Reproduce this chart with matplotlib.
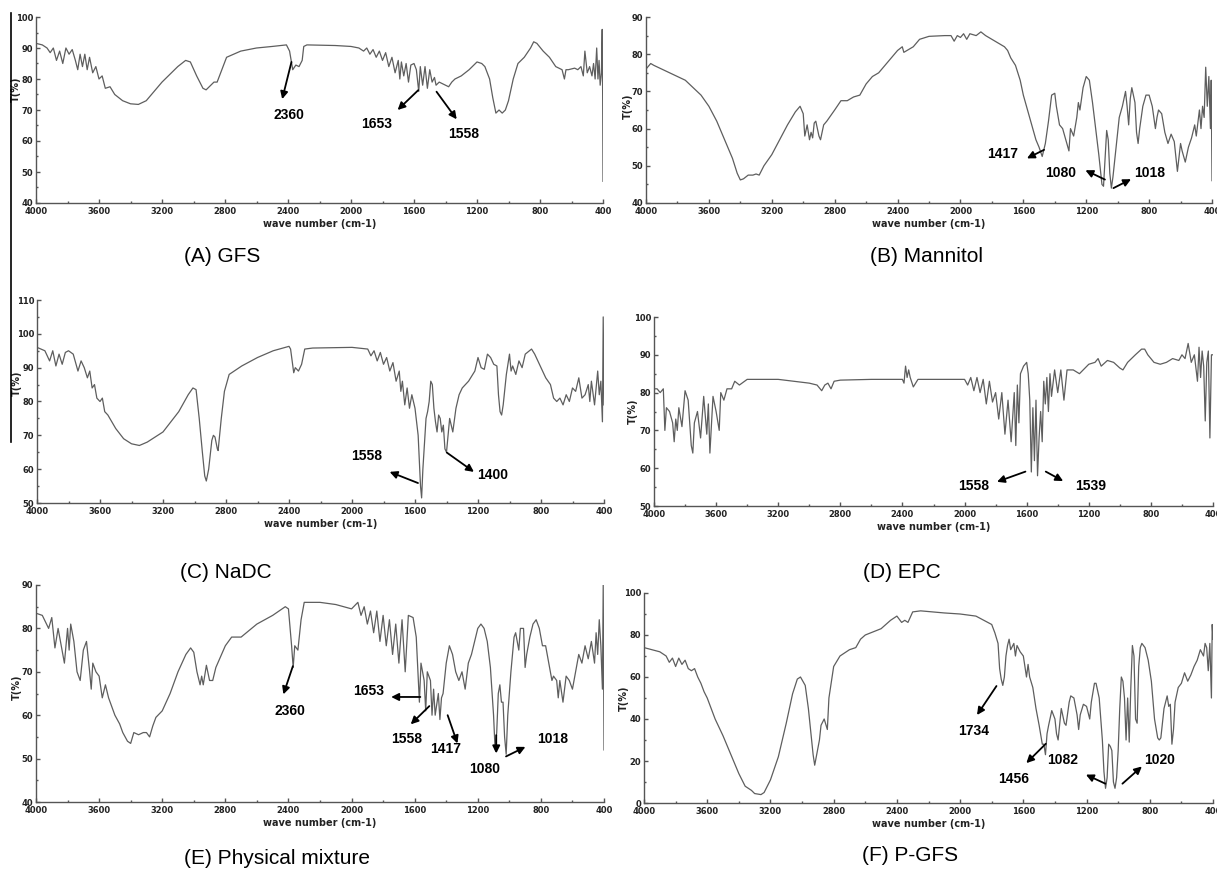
#!/usr/bin/env python3
# FTIR spectra, six panels (A-F), saved to out.png
import matplotlib.pyplot as plt
from matplotlib.lines import Line2D
from matplotlib.ticker import MultipleLocator

# --- spectra: wavenumber (cm-1) and transmittance (%) ---
gfs_wn = [4000, 3960, 3930, 3910, 3890, 3870, 3850, 3830, 3810, 3790, 3770, 3750, 3735, 3720, 3705,
          3690, 3675, 3660, 3640, 3620, 3600, 3580, 3560, 3530, 3500, 3450, 3400, 3350, 3300, 3200,
          3100, 3050, 3020, 2980, 2940, 2920, 2900, 2870, 2850, 2820, 2790, 2700, 2600, 2500, 2410,
          2390, 2370, 2350, 2330, 2310, 2300, 2280, 2100, 2000, 1950, 1920, 1900, 1880, 1860, 1840,
          1820, 1800, 1780, 1760, 1740, 1720, 1700, 1690, 1680, 1665, 1650, 1635, 1620, 1600, 1585,
          1570, 1560, 1545, 1530, 1515, 1500, 1485, 1470, 1460, 1440, 1420, 1400, 1380, 1360, 1340,
          1300, 1250, 1200, 1170, 1150, 1120, 1100, 1080, 1060, 1040, 1020, 1000, 970, 940, 900,
          860, 840, 820, 780, 740, 700, 660, 645, 635, 620, 580, 560, 540, 525, 515, 500, 485, 470,
          460, 450, 440, 432, 425, 418, 410, 405, 402, 400]
gfs_t = [91.5, 91, 90, 88.5, 90, 86, 89, 85, 90, 88, 89.5, 86, 83, 88, 84,
         88, 83, 87, 82, 84, 80, 81, 77, 77.5, 75, 73, 72, 71.8, 73, 79,
         84, 86, 85.5, 81, 77, 76.5, 77.5, 79, 79, 83, 87, 89, 90, 90.5, 91,
         89, 83, 84.5, 84, 86, 90.5, 91, 90.8, 90.5, 90, 89, 90, 88, 89.5, 87,
         89, 86, 88.5, 84, 87, 82, 86, 80, 85.5, 81, 85, 79, 84.5, 85, 83,
         76, 84, 78, 84, 77, 83, 79, 80.5, 78, 79, 78.5, 78, 77.5, 79, 80,
         81, 83, 85.5, 85, 84, 80, 74, 69, 70, 69, 70, 73, 80, 85, 87,
         90, 92, 91.5, 89, 87, 84, 83, 80, 83, 83, 83.5, 83, 84, 81, 89, 82, 84, 81,
         85, 80, 90, 80, 86, 78, 82, 96, 73, 47]

mannitol_wn = [4000, 3970, 3950, 3900, 3800, 3750, 3700, 3650, 3600, 3550, 3500, 3450, 3420, 3400,
               3380, 3350, 3320, 3300, 3280, 3250, 3200, 3150, 3100, 3050, 3020, 3000, 2990, 2975,
               2960, 2950, 2940, 2930, 2920, 2900, 2890, 2870, 2850, 2800, 2760, 2720, 2680, 2640,
               2600, 2560, 2520, 2480, 2440, 2400, 2370, 2360, 2340, 2300, 2260, 2200, 2100, 2060,
               2040, 2020, 2000, 1980, 1960, 1940, 1900, 1870, 1840, 1800, 1760, 1720, 1700, 1680,
               1650, 1620, 1600, 1580, 1560, 1540, 1520, 1500, 1480, 1460, 1440, 1420, 1400, 1390,
               1370, 1350, 1330, 1310, 1300, 1280, 1260, 1250, 1240, 1220, 1200, 1180, 1160, 1140,
               1120, 1100, 1090, 1080, 1070, 1060, 1050, 1040, 1030, 1010, 990, 970, 950, 940, 930,
               920, 910, 890, 880, 870, 860, 840, 820, 800, 780, 760, 750, 740, 720, 700, 680, 660,
               640, 620, 600, 590, 570, 550, 530, 510, 500, 480, 470, 460, 450, 440, 430, 420, 410,
               405, 400]
mannitol_t = [76, 77.5, 77, 76, 74, 73, 71, 69, 66, 62, 57, 52, 48, 46.2,
              46.5, 47.5, 47.5, 47.8, 47.5, 50, 53, 57, 61, 64.5, 66, 64, 58, 61,
              57, 59, 57.5, 61.5, 62, 58, 57, 61, 62, 65, 67.5, 67.5, 68.5, 69,
              72, 74, 75, 77, 79, 81, 82, 80.5, 81, 82, 84, 84.8, 85, 85,
              83.5, 85, 84.5, 85.5, 84, 85.5, 85, 86, 85, 84, 83, 82, 81, 79,
              77, 73, 69, 66, 63, 60, 57, 55, 52.5, 56, 62, 69, 69.5, 66,
              61, 60, 57, 54, 60, 58, 63, 67, 65, 71, 74, 73, 67, 60,
              53, 45, 44.5, 52, 59.5, 57, 48, 44, 47, 55, 63, 66, 70, 66, 61,
              68, 71, 67, 59, 56, 60, 66, 69, 69, 66, 60, 63, 65, 64, 59, 56, 58.5,
              56.5, 48.5, 56, 54, 51, 55, 57.5, 61, 58, 65, 60, 66, 63, 76.5, 66, 74, 60,
              73, 46]

nadc_wn = [4000, 3950, 3920, 3900, 3880, 3860, 3840, 3820, 3800, 3770, 3740, 3720, 3700, 3680,
           3665, 3650, 3635, 3620, 3600, 3585, 3570, 3550, 3500, 3450, 3400, 3350, 3300, 3200,
           3100, 3040, 3010, 2990, 2970, 2950, 2935, 2925, 2910, 2890, 2880, 2870, 2855, 2850,
           2830, 2810, 2780, 2700, 2600, 2500, 2400, 2390, 2380, 2370, 2360, 2340, 2320, 2300,
           2250, 2000, 1900, 1880, 1860, 1840, 1820, 1800, 1780, 1760, 1740, 1720, 1700, 1690,
           1680, 1665, 1650, 1635, 1620, 1600, 1580, 1565, 1558, 1550, 1530, 1520, 1510, 1500,
           1490, 1480, 1470, 1460, 1450, 1440, 1430, 1420, 1410, 1400, 1390, 1380, 1360, 1340,
           1320, 1300, 1260, 1220, 1200, 1180, 1160, 1140, 1120, 1100, 1080, 1070, 1060, 1050,
           1040, 1020, 1000, 990, 980, 960, 940, 920, 900, 860, 840, 800, 770, 740, 720, 700,
           680, 660, 640, 620, 600, 580, 560, 540, 520, 500, 490, 480, 460, 440, 430, 420, 410,
           405, 400]
nadc_t = [96, 95, 92, 95, 90.5, 94, 91, 94.5, 95, 94, 89, 92, 90, 87,
          89, 84, 85, 81, 80, 81, 77, 76, 72, 69, 67.5, 67, 68, 71,
          77, 82, 84, 83.5, 75, 65, 58, 56.5, 60, 68.5, 70, 69.5, 66, 65.5,
          75, 83, 88, 90.5, 93, 95, 96.3, 95.5, 92, 88.5, 90, 89, 91, 95.5,
          95.8, 96, 95.5, 93.5, 95, 92, 94.5, 91, 93, 89, 91.5, 86, 89, 83,
          86, 79, 84, 78, 82, 78, 70, 55, 51.5, 60, 75, 77, 80, 86,
          85, 78, 74, 71, 76, 75, 71, 73, 66, 65, 70, 75, 71, 78,
          82, 84, 86, 89, 93, 90, 89.5, 94, 93, 91, 90.5, 82, 77, 76,
          79, 88, 94, 89, 90.5, 88, 92, 90, 94, 95.5, 94, 90, 87, 85, 81, 80,
          81, 79, 82, 80, 84, 83, 87, 81, 82, 85, 80, 86, 79, 89, 82, 86, 74,
          105, 79]

epc_wn = [4000, 3980, 3960, 3940, 3930, 3920, 3900, 3880, 3870, 3860, 3850, 3840, 3820, 3800,
          3780, 3760, 3750, 3740, 3720, 3700, 3680, 3660, 3650, 3640, 3620, 3600, 3580, 3570,
          3550, 3530, 3500, 3480, 3450, 3400, 3300, 3200, 3100, 3000, 2950, 2920, 2900, 2880,
          2860, 2840, 2800, 2600, 2400, 2390, 2380, 2370, 2360, 2350, 2330, 2300, 2100, 2000,
          1980, 1960, 1940, 1920, 1900, 1880, 1860, 1840, 1820, 1800, 1780, 1760, 1740, 1720,
          1700, 1680, 1670, 1660, 1650, 1640, 1620, 1600, 1590, 1580, 1570, 1560, 1550, 1540,
          1530, 1520, 1510, 1500, 1490, 1480, 1470, 1460, 1450, 1440, 1420, 1400, 1380, 1360,
          1340, 1300, 1260, 1200, 1160, 1140, 1120, 1080, 1040, 1000, 980, 950, 900, 860, 840,
          820, 780, 740, 700, 660, 620, 600, 580, 560, 540, 520, 500, 490, 480, 470, 460, 450,
          440, 430, 420, 410, 400]
epc_t = [81, 81, 80, 81, 70, 76, 75, 72, 67, 73, 70, 76, 71, 80.5,
         78, 66, 64, 72, 75, 68, 79, 69, 77, 64, 79, 75, 70, 80,
         78, 81, 81, 83, 82, 83.5, 83.5, 83.5, 83, 82.5, 82, 80.5, 82, 82.5,
         81, 83, 83.3, 83.5, 83.5, 82.5, 87, 84, 86, 84, 81.5, 83.5, 83.5, 83.5,
         82, 84, 80.5, 84, 80, 83.5, 77, 83, 77.5, 80, 73, 80, 69, 78,
         67, 80, 66, 82, 72, 85, 87, 88, 85, 78, 59, 76, 62, 78,
         58, 68, 75, 67, 83, 77, 84, 75, 85, 79, 86, 80, 86, 78,
         86, 86, 85, 87.5, 88, 89, 87, 88.5, 88, 86.5, 86, 88, 90, 91.5, 91.5,
         90, 88, 87.5, 88, 89, 88.5, 90, 89, 93, 88, 90, 83, 92, 84, 91, 87, 72.5,
         88, 91, 68, 90, 90]

mix_wn = [4000, 3960, 3940, 3920, 3900, 3880, 3860, 3840, 3820, 3800, 3790, 3780, 3760, 3740,
          3720, 3700, 3680, 3660, 3650, 3640, 3620, 3600, 3580, 3560, 3540, 3520, 3500, 3470,
          3450, 3420, 3400, 3380, 3350, 3320, 3300, 3280, 3260, 3240, 3200, 3150, 3100, 3050,
          3020, 3000, 2980, 2960, 2950, 2940, 2920, 2900, 2880, 2860, 2800, 2760, 2700, 2600,
          2500, 2420, 2400, 2380, 2370, 2360, 2340, 2320, 2300, 2200, 2100, 2050, 2000, 1960,
          1940, 1920, 1900, 1880, 1860, 1840, 1820, 1800, 1780, 1760, 1740, 1720, 1700, 1680,
          1660, 1640, 1610, 1590, 1570, 1560, 1540, 1530, 1520, 1500, 1490, 1480, 1470, 1450,
          1440, 1430, 1420, 1400, 1380, 1360, 1340, 1320, 1300, 1280, 1260, 1240, 1220, 1200,
          1180, 1160, 1140, 1120, 1100, 1090, 1080, 1070, 1060, 1050, 1040, 1030, 1020, 1010,
          990, 970, 960, 940, 930, 910, 900, 890, 870, 850, 830, 810, 790, 770, 750, 730, 720,
          700, 690, 680, 660, 640, 620, 600, 580, 560, 540, 520, 500, 480, 460, 450, 440, 430,
          420, 410, 405, 400]
mix_t = [83.5, 83, 81.5, 80, 82.5, 75.5, 80, 76, 72, 80, 75, 81, 77, 70,
         68, 75, 77, 70, 66, 72, 70, 69, 64, 67, 64, 62, 60, 58,
         56, 54, 53.5, 56, 55.5, 56, 56, 55, 57.5, 59.5, 61, 65, 70, 74,
         75.5, 74.5, 70, 67, 69, 67, 71.5, 68, 68, 71, 76, 78, 78, 81,
         83, 85, 84.5, 76, 71, 76, 75, 82, 86, 86, 85.5, 85, 84.5, 86,
         83, 85, 81, 84, 79, 84, 77, 83, 76, 82, 74, 81, 72, 82,
         70, 83, 82.5, 78, 63, 72, 68, 61, 70, 68, 60, 66, 60, 65,
         59, 64, 65, 72, 76, 74, 70, 68, 70, 66, 72, 74, 77, 80,
         81, 80, 77, 71, 60, 52, 56, 65, 67, 63, 63, 55, 51, 60,
         70, 78, 79, 75, 80, 80, 71, 74, 78, 81, 82, 80, 76, 76, 72, 68, 69,
         68, 64, 68, 63, 69, 68, 66, 70, 74, 72, 76, 73, 77, 72, 79, 74, 82,
         76, 66, 90, 52]

pgfs_wn = [4000, 3950, 3900, 3860, 3840, 3820, 3800, 3780, 3760, 3740, 3720, 3700, 3680, 3660,
           3640, 3620, 3600, 3580, 3550, 3500, 3450, 3400, 3360, 3320, 3300, 3260, 3240, 3200,
           3150, 3100, 3060, 3030, 3010, 2980, 2960, 2940, 2930, 2920, 2910, 2890, 2880, 2860,
           2840, 2830, 2800, 2760, 2700, 2660, 2630, 2600, 2500, 2440, 2400, 2390, 2370, 2350,
           2330, 2300, 2250, 2100, 2000, 1900, 1850, 1800, 1780, 1760, 1750, 1740, 1730, 1720,
           1710, 1700, 1690, 1680, 1660, 1650, 1640, 1620, 1600, 1590, 1580, 1570, 1560, 1540,
           1520, 1500, 1480, 1470, 1460, 1450, 1440, 1420, 1400, 1390, 1380, 1360, 1340, 1330,
           1310, 1300, 1280, 1260, 1250, 1240, 1220, 1200, 1180, 1170, 1150, 1140, 1120, 1100,
           1090, 1080, 1070, 1060, 1050, 1040, 1030, 1020, 1010, 1000, 990, 980, 970, 960, 950,
           940, 930, 920, 910, 900, 890, 880, 870, 860, 850, 830, 810, 790, 770, 750, 740, 730,
           710, 700, 690, 680, 670, 660, 650, 640, 620, 600, 580, 560, 540, 520, 500, 480, 460,
           450, 440, 430, 420, 410, 405, 400]
pgfs_t = [74, 73, 72, 70, 67, 69, 65, 69, 66, 68, 64, 63, 64, 60,
          57, 53, 50, 46, 40, 32, 23, 14, 8, 6, 4.5, 4, 5, 11,
          22, 38, 52, 59, 60, 56, 45, 30, 23, 18, 22, 30, 37, 40,
          35, 50, 65, 70, 73, 74, 78, 80, 83, 87, 89, 88, 86, 87,
          86, 91, 91.5, 90.5, 90, 89, 87, 85, 81, 76, 64, 59, 56, 60,
          70, 75, 78, 73, 76, 70, 75, 72, 70, 65, 60, 66, 60, 55,
          45, 37, 28, 28, 23, 33, 37, 44, 40, 33, 30, 45, 38, 37,
          48, 51, 50, 42, 35, 42, 47, 46, 40, 48, 57, 57, 50, 30,
          15, 7, 12, 28, 27, 25, 10, 7, 12, 25, 45, 60, 58, 50, 30,
          50, 29, 55, 75, 70, 40, 38, 65, 74, 76, 74, 68, 58, 40, 31, 30, 31,
          45, 48, 51, 46, 47, 28, 35, 48, 55, 57, 62, 58, 61, 65, 68, 73, 70,
          76, 74, 63, 76, 50, 85, 78]

panel_titles = ["(A) GFS", "(B) Mannitol", "(C) NaDC", "(D) EPC",
                "(E) Physical mixture", "(F) P-GFS"]
y_ranges = [(40, 100), (40, 90), (50, 110), (50, 100), (40, 90), (0, 100)]
y_steps = [10, 10, 10, 10, 10, 20]
spectra = [(gfs_wn, gfs_t), (mannitol_wn, mannitol_t), (nadc_wn, nadc_t),
           (epc_wn, epc_t), (mix_wn, mix_t), (pgfs_wn, pgfs_t)]

# peak labels per panel: (text, text_xy, arrow tail, arrow head)  -- tail/head None = no arrow
peak_notes = [
    [("2360", (2395, 68.4), (2378, 85.5), (2437, 73.5)),
     ("1653", (1840, 65.4), (1573, 76.4), (1704, 70.0)),
     ("1558", (1284, 62.2), (1457, 75.9), (1329, 67.0))],
    [("1417", (1733, 53.2), (1468, 54.3), (1577, 52.0)),
     ("1080", (1361, 48.0), (1081, 46.3), (1205, 48.8)),
     ("1018", (798, 48.0), (1027, 44.0), (915, 46.4))],
    [("1558", (1909, 63.8), (1581, 55.9), (1761, 59.2)),
     ("1400", (1107, 58.2), (1398, 64.9), (1226, 59.2))],
    [("1558", (1941, 55.3), (1608, 59.1), (1791, 56.4)),
     ("1539", (1189, 55.3), (1477, 59.1), (1365, 56.6))],
    [("2360", (2390, 61.0), (2372, 71.3), (2432, 64.8)),
     ("1653", (1889, 65.5), (1564, 64.2), (1749, 64.2)),
     ("1558", (1650, 54.6), (1507, 62.1), (1625, 57.9)),
     ("1417", (1403, 52.1), (1391, 60.0), (1329, 53.5)),
     ("1080", (1157, 47.7), (1083, 55.4), (1083, 51.2)),
     ("1018", (725, 54.6), (1021, 50.5), (898, 52.7))],
    [("1734", (1913, 34.5), (1770, 55.7), (1893, 41.9)),
     ("1456", (1662, 11.4), (1458, 28.2), (1581, 19.0)),
     ("1082", (1352, 20.6), None, None),
     ("", (1204, 13.5), (1081, 9.2), (1204, 13.5)),
     ("1020", (737, 20.6), (973, 9.2), (850, 17.4))],
]

# axes boxes in pixels (x0, x1, y_top, y_bottom) on a 1217x871 canvas
W, H = 1217, 871
boxes = [(36, 603, 17, 203), (646, 1212, 17, 203),
         (37, 604, 300, 503), (654, 1213, 317, 506),
         (36, 604, 585, 802), (644, 1213, 593, 803)]
title_pos = [(222, 257), (927, 257), (226, 572), (902, 572), (277, 858), (910, 855)]
ylabel_pos = [(-0.027, 0.61), (-0.024, 0.52), (-0.027, 0.59),
              (-0.029, 0.50), (-0.025, 0.53), (-0.027, 0.50)]
label_font = ["Liberation Sans Narrow", "Liberation Sans", "DejaVu Sans"]

fig = plt.figure(figsize=(W / 100, H / 100), dpi=100)
fig.patch.set_facecolor("white")

for i, (wn, t) in enumerate(spectra):
    x0, x1, yt, yb = boxes[i]
    ax = fig.add_axes([x0 / W, 1 - yb / H, (x1 - x0) / W, (yb - yt) / H])
    ax.plot(wn, t, color="#5e5e5e", lw=0.9)
    ax.set_xlim(4000, 400)
    ax.set_ylim(*y_ranges[i])
    ax.xaxis.set_major_locator(MultipleLocator(400))
    ax.xaxis.set_minor_locator(MultipleLocator(200))
    ax.yaxis.set_major_locator(MultipleLocator(y_steps[i]))
    ax.yaxis.set_minor_locator(MultipleLocator(y_steps[i] / 2))
    ax.tick_params(which="major", direction="in", length=3, width=1, color="#555",
                   labelsize=6, pad=2)
    ax.tick_params(axis="x", which="major", pad=3)
    ax.tick_params(which="minor", direction="in", length=1.5, width=1, color="#555")
    for lab in ax.get_xticklabels() + ax.get_yticklabels():
        lab.set_fontweight("bold")
        lab.set_color("#222")
    for s in ["top", "right"]:
        ax.spines[s].set_visible(False)
    for s in ["left", "bottom"]:
        ax.spines[s].set_color("#555")
        ax.spines[s].set_linewidth(1)
    ax.patch.set_alpha(0)
    ax.set_xlabel("wave number (cm-1)", fontsize=7, fontweight="bold", labelpad=2, color="#222")
    ax.set_ylabel("T(%)", fontsize=7, fontweight="bold", color="#222")
    ax.yaxis.set_label_coords(*ylabel_pos[i])

    for txt, txy, tail, head in peak_notes[i]:
        if txt:
            ax.text(txy[0], txy[1], txt, fontsize=10, fontweight="bold", family=label_font,
                    ha="center", va="center")
        if tail is not None:
            ax.annotate("", xy=head, xytext=tail,
                        arrowprops=dict(arrowstyle="-|>", color="k", lw=1.3,
                                        mutation_scale=11, shrinkA=0, shrinkB=0))

    tx, ty = title_pos[i]
    fig.text(tx / W, 1 - ty / H, panel_titles[i], fontsize=15, family=["Liberation Sans", "DejaVu Sans"],
             ha="center", va="center")

# stray vertical rule at the far left of the original scan
fig.add_artist(Line2D([11 / W, 11 / W], [1 - 13 / H, 1 - 442 / H], color="k", lw=1.2))

fig.savefig("out.png", dpi=100)
